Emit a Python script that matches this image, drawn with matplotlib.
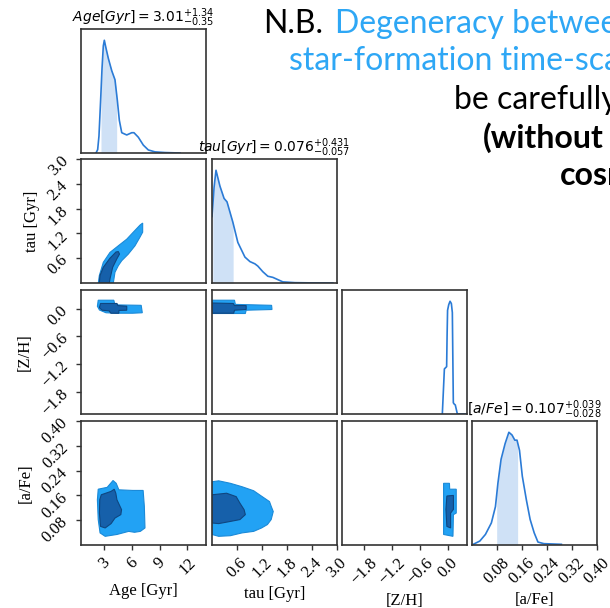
import numpy as np
import matplotlib.pyplot as plt

# parameters, axis ranges and ticks
labels = ['Age [Gyr]', 'tau [Gyr]', '[Z/H]', '[a/Fe]']
title_names = ['Age[Gyr]', 'tau[Gyr]', None, '[a/Fe]']
ranges = [(0.5, 14.0), (0.0, 3.0), (-2.27, 0.40), (0.0, 0.40)]
ticks = [[3, 6, 9, 12],
         [0.6, 1.2, 1.8, 2.4, 3.0],
         [-1.8, -1.2, -0.6, 0.0],
         [0.08, 0.16, 0.24, 0.32, 0.40]]
tick_labels = [['3', '6', '9', '12'],
               ['0.6', '1.2', '1.8', '2.4', '3.0'],
               ['\u22121.8', '\u22121.2', '\u22120.6', '0.0'],
               ['0.08', '0.16', '0.24', '0.32', '0.40']]

# median and 16/84 percentile offsets
medians = ['3.01', '0.076', None, '0.107']
err_hi = ['1.34', '0.431', None, '0.039']
err_lo = ['0.35', '0.057', None, '0.028']

# 1D marginal densities (normalised to peak)
age_x = [2.12, 2.30, 2.44, 2.61, 2.77, 2.91, 3.02, 3.20, 3.45, 3.82, 4.17, 4.42,
         4.64, 4.90, 5.44, 5.98, 6.22, 6.69, 7.23, 7.77, 8.49, 9.57, 11.19]
age_pdf = [0.0, 0.03, 0.15, 0.45, 0.75, 0.95, 1.0, 0.93, 0.84, 0.73, 0.65, 0.47,
           0.29, 0.18, 0.16, 0.18, 0.18, 0.14, 0.07, 0.027, 0.01, 0.004, 0.0]
tau_x = [0.0, 0.05, 0.096, 0.19, 0.29, 0.36, 0.43, 0.50, 0.62, 0.79, 0.91, 1.03,
         1.10, 1.22, 1.34, 1.46, 1.58, 1.70, 1.99, 2.4, 2.9]
tau_pdf = [0.59, 0.85, 1.0, 0.86, 0.75, 0.72, 0.63, 0.54, 0.36, 0.23, 0.19, 0.17,
           0.15, 0.10, 0.06, 0.05, 0.03, 0.01, 0.003, 0.001, 0.0]
zh_x = [-0.127, -0.083, -0.035, -0.025, -0.015, 0.010, 0.038, 0.066, 0.087,
        0.100, 0.108, 0.123, 0.150, 0.194, 0.40]
zh_pdf = [0.0, 0.40, 0.42, 0.70, 0.92, 0.97, 1.0, 0.98, 0.90, 0.40, 0.10, 0.09,
          0.08, 0.0, 0.0]
afe_x = [0.004, 0.025, 0.043, 0.062, 0.075, 0.083, 0.093, 0.106, 0.118, 0.128,
         0.137, 0.144, 0.152, 0.161, 0.174, 0.186, 0.199, 0.211, 0.230, 0.286]
afe_pdf = [0.006, 0.035, 0.094, 0.196, 0.34, 0.55, 0.76, 0.90, 1.0, 0.976, 0.93,
           0.93, 0.84, 0.61, 0.40, 0.227, 0.108, 0.026, 0.012, 0.006]
marg_x = [age_x, tau_x, zh_x, afe_x]
marg_pdf = [age_pdf, tau_pdf, zh_pdf, afe_pdf]

# 2D credible regions (outer = 2 sigma, inner = 1 sigma), x then y
age_tau_out_x = [2.37, 2.48, 2.91, 3.63, 4.53, 5.44, 6.15, 6.87, 7.16, 7.16, 6.87, 6.33, 5.61, 4.90, 4.53, 4.17, 3.99]
age_tau_out_y = [0.0, 0.18, 0.50, 0.74, 0.90, 1.06, 1.23, 1.40, 1.45, 1.23, 1.11, 0.90, 0.70, 0.54, 0.42, 0.26, 0.0]
age_tau_in_x = [2.48, 2.55, 2.91, 3.63, 4.28, 4.53, 4.66, 4.36, 3.92, 3.63, 3.56]
age_tau_in_y = [0.0, 0.18, 0.38, 0.60, 0.75, 0.76, 0.70, 0.58, 0.38, 0.10, 0.0]

age_zh_out_x = [2.36, 4.04, 4.17, 7.00, 7.12, 6.07, 4.39, 3.20, 2.49, 2.27]
age_zh_out_y = [0.18, 0.18, 0.08, 0.07, -0.09, -0.10, -0.10, -0.09, -0.03, 0.05]
age_zh_in_x = [2.61, 4.39, 4.47, 5.44, 5.44, 4.59, 4.59, 3.74, 3.53, 2.78, 2.49]
age_zh_in_y = [0.11, 0.11, 0.065, 0.05, -0.035, -0.04, -0.10, -0.10, -0.05, -0.035, 0.02]

tau_zh_out_x = [0.0, 0.54, 0.56, 1.43, 1.44, 0.82, 0.80, 0.0]
tau_zh_out_y = [0.18, 0.18, 0.09, 0.07, -0.02, -0.035, -0.106, -0.106]
tau_zh_in_x = [0.0, 0.51, 0.54, 0.82, 0.82, 0.54, 0.52, 0.0]
tau_zh_in_y = [0.12, 0.11, 0.065, 0.065, -0.02, -0.035, -0.10, -0.10]

age_afe_out_x = [2.36, 3.33, 3.96, 4.30, 4.59, 6.07, 7.21, 7.34, 7.41, 6.91, 6.28, 5.65, 4.39, 3.11, 2.56, 2.36, 2.27]
age_afe_out_y = [0.180, 0.186, 0.208, 0.199, 0.178, 0.176, 0.176, 0.125, 0.055, 0.044, 0.041, 0.044, 0.034, 0.028, 0.039, 0.082, 0.146]
age_afe_in_x = [2.69, 3.75, 4.09, 4.26, 4.38, 4.88, 4.80, 4.17, 3.75, 3.11, 2.61, 2.49, 2.53]
age_afe_in_y = [0.162, 0.173, 0.180, 0.167, 0.146, 0.114, 0.098, 0.087, 0.069, 0.055, 0.060, 0.103, 0.146]

tau_afe_out_x = [0.0, 0.16, 0.44, 0.72, 1.00, 1.14, 1.38, 1.42, 1.47, 1.42, 1.33, 1.19, 1.00, 0.72, 0.44, 0.16, 0.0]
tau_afe_out_y = [0.204, 0.207, 0.199, 0.188, 0.175, 0.162, 0.140, 0.125, 0.108, 0.082, 0.066, 0.055, 0.044, 0.039, 0.030, 0.028, 0.034]
tau_afe_in_x = [0.0, 0.35, 0.58, 0.67, 0.77, 0.80, 0.67, 0.44, 0.16, 0.0]
tau_afe_in_y = [0.162, 0.167, 0.156, 0.135, 0.114, 0.098, 0.082, 0.076, 0.069, 0.071]

zh_afe_out_x = [-0.10, 0.025, 0.03, 0.17, 0.17, 0.11, 0.10, -0.10]
zh_afe_out_y = [0.199, 0.199, 0.180, 0.180, 0.103, 0.098, 0.028, 0.034]
zh_afe_in_x = [-0.03, 0.11, 0.11, 0.05, 0.05, -0.03, -0.05]
zh_afe_in_y = [0.158, 0.160, 0.115, 0.103, 0.055, 0.060, 0.115]

regions = {
    (1, 0): (age_tau_out_x, age_tau_out_y, age_tau_in_x, age_tau_in_y),
    (2, 0): (age_zh_out_x, age_zh_out_y, age_zh_in_x, age_zh_in_y),
    (2, 1): (tau_zh_out_x, tau_zh_out_y, tau_zh_in_x, tau_zh_in_y),
    (3, 0): (age_afe_out_x, age_afe_out_y, age_afe_in_x, age_afe_in_y),
    (3, 1): (tau_afe_out_x, tau_afe_out_y, tau_afe_in_x, tau_afe_in_y),
    (3, 2): (zh_afe_out_x, zh_afe_out_y, zh_afe_in_x, zh_afe_in_y),
}

LIGHT = '#22a2f4'
DARK = '#1660aa'
LINE = '#2b7bd6'
SHADE = '#cfe1f6'
SPINE = '#333333'

plt.rcParams['font.family'] = 'Liberation Serif'
plt.rcParams['mathtext.fontset'] = 'dejavusans'

W, H = 610, 608
fig = plt.figure(figsize=(W / 100, H / 100), dpi=100)
col_left = [81, 212, 342, 472]
row_top = [29, 159, 290, 421]
pw, ph = 125, 124
n = len(labels)

for i in range(n):
    for j in range(i + 1):
        ax = fig.add_axes([col_left[j] / W, (H - row_top[i] - ph) / H, pw / W, ph / H])
        for s in ax.spines.values():
            s.set_color(SPINE)
            s.set_linewidth(1.2)
        ax.set_xlim(ranges[j])
        ax.tick_params(direction='out', length=3.5, width=1, color=SPINE, labelsize=12)

        if i == j:
            x = np.array(marg_x[i])
            y = np.array(marg_pdf[i])
            ax.plot(x, y, color=LINE, lw=1.2)
            ax.set_ylim(0, 1.1)
            if medians[i] is not None:
                lo = float(medians[i]) - float(err_lo[i])
                hi = float(medians[i]) + float(err_hi[i])
                xs = np.concatenate([[lo], x[(x > lo) & (x < hi)], [hi]])
                ax.fill_between(xs, 0, np.interp(xs, x, y), color=SHADE, lw=0)
                ax.set_title(r'$%s = %s^{+%s}_{-%s}$' % (title_names[i], medians[i], err_hi[i], err_lo[i]),
                             fontsize=10, pad=5)
            ax.set_yticks([])
        else:
            ox, oy, ix, iy = regions[(i, j)]
            ax.fill(ox, oy, facecolor=LIGHT, edgecolor='#1b8ad8', lw=0.8)
            ax.fill(ix, iy, facecolor=DARK, edgecolor='#0f4680', lw=0.8)
            ax.set_ylim(ranges[i])
            if j == 0:
                ax.set_yticks(ticks[i])
                ax.set_yticklabels(tick_labels[i], rotation=45)
                ax.set_ylabel(labels[i], fontsize=12)
            else:
                ax.set_yticks([])

        if i == n - 1:
            ax.set_xticks(ticks[j])
            ax.set_xticklabels(tick_labels[j], rotation=45)
            ax.set_xlabel(labels[j], fontsize=12)
        else:
            ax.set_xticks([])

# note placed over the top-right corner, running off the right edge
BLUE = '#2ea7f5'
note = dict(fontsize=23, family='Lato')
fig.text(263 / W, 1 - 33 / H, 'N.B.', color='black', **note)
fig.text(335 / W, 1 - 33 / H, 'Degeneracy between', color=BLUE, **note)
fig.text(289 / W, 1 - 70 / H, 'star-formation time-scale', color=BLUE, **note)
fig.text(454 / W, 1 - 109 / H, 'be carefully', color='black', **note)
fig.text(483 / W, 1 - 148 / H, '(without', color='black', fontweight='bold', **note)
fig.text(560 / W, 1 - 185 / H, 'cosmic', color='black', fontweight='bold', **note)

fig.savefig('out.png', dpi=100)
